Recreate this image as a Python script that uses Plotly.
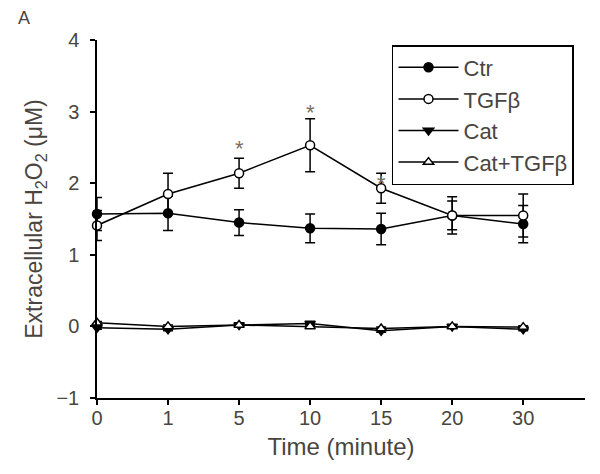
import plotly.graph_objects as go

times = ["0", "1", "5", "10", "15", "20", "30"]

ctr = [1.57, 1.58, 1.45, 1.37, 1.36, 1.55, 1.43]
ctr_err = [0.23, 0.24, 0.18, 0.20, 0.22, 0.20, 0.26]

tgf = [1.41, 1.85, 2.14, 2.53, 1.93, 1.55, 1.55]
tgf_err = [0.21, 0.29, 0.21, 0.37, 0.21, 0.26, 0.30]

cat = [-0.02, -0.04, 0.02, 0.04, -0.06, 0.0, -0.04]
cat_err = [0.02, 0.02, 0.02, 0.02, 0.02, 0.02, 0.02]

cat_tgf = [0.05, 0.0, 0.02, 0.0, -0.03, 0.0, -0.01]
cat_tgf_err = [0.02, 0.02, 0.02, 0.02, 0.02, 0.02, 0.02]

star_times = ["5", "10", "15"]
star_y = [2.28, 2.78, 1.80]

text_color = "#4a4540"

series = [
    ("Ctr", ctr, ctr_err, "circle", "black"),
    ("TGFβ", tgf, tgf_err, "circle", "white"),
    ("Cat", cat, cat_err, "triangle-down", "black"),
    ("Cat+TGFβ", cat_tgf, cat_tgf_err, "triangle-up", "white"),
]

fig = go.Figure()
for name, vals, errs, sym, fill in series:
    fig.add_trace(go.Scatter(
        x=times, y=vals, name=name, mode="lines+markers",
        line=dict(color="black", width=1.5),
        marker=dict(symbol=sym, size=9, color=fill, line=dict(color="black", width=1.5)),
        error_y=dict(type="data", array=errs, visible=True, color="black", thickness=1.5, width=5),
        cliponaxis=False,
    ))

for t, yv in zip(star_times, star_y):
    fig.add_annotation(x=times.index(t), y=yv, text="*", showarrow=False,
                       yanchor="bottom",
                       font=dict(size=22, color="#7a6e66", family="Liberation Sans, Arial"))

fig.add_annotation(xref="paper", yref="paper", x=-0.165, y=1.061, xanchor="left", yanchor="middle",
                   text="A", showarrow=False,
                   font=dict(size=18, color=text_color, family="Liberation Sans, Arial"))

fig.update_layout(
    width=592, height=466,
    margin=dict(l=89, r=15, t=32, b=76),
    paper_bgcolor="white", plot_bgcolor="white",
    font=dict(family="Liberation Sans, Arial", color=text_color, size=20),
    showlegend=True,
    legend=dict(
        x=0.6045, y=0.986, xanchor="left", yanchor="top",
        bgcolor="white", bordercolor="black", borderwidth=1.5,
        font=dict(size=22, color=text_color),
        itemwidth=60, tracegroupgap=0,
    ),
    xaxis=dict(
        type="category", categoryorder="array", categoryarray=times,
        range=[0, 6.87], showline=True, linecolor="black", linewidth=1.5,
        ticks="outside", ticklen=5, tickcolor="black", tickwidth=1.5,
        ticklabelstandoff=-4,
        showgrid=False, zeroline=False, automargin=False,
        title=dict(text="Time (minute)", font=dict(size=24), standoff=10),
        tickfont=dict(size=20),
    ),
    yaxis=dict(
        range=[-1, 4], tickvals=[-1, 0, 1, 2, 3, 4],
        showline=True, linecolor="black", linewidth=1.5,
        ticks="outside", ticklen=5, tickcolor="black", tickwidth=1.5,
        ticklabelstandoff=7,
        showgrid=False, zeroline=False, automargin=False,
        title=dict(text="Extracellular H<sub>2</sub>O<sub>2</sub> (μM)", font=dict(size=23), standoff=7),
        tickfont=dict(size=20),
    ),
)

fig.write_html("out.html")
